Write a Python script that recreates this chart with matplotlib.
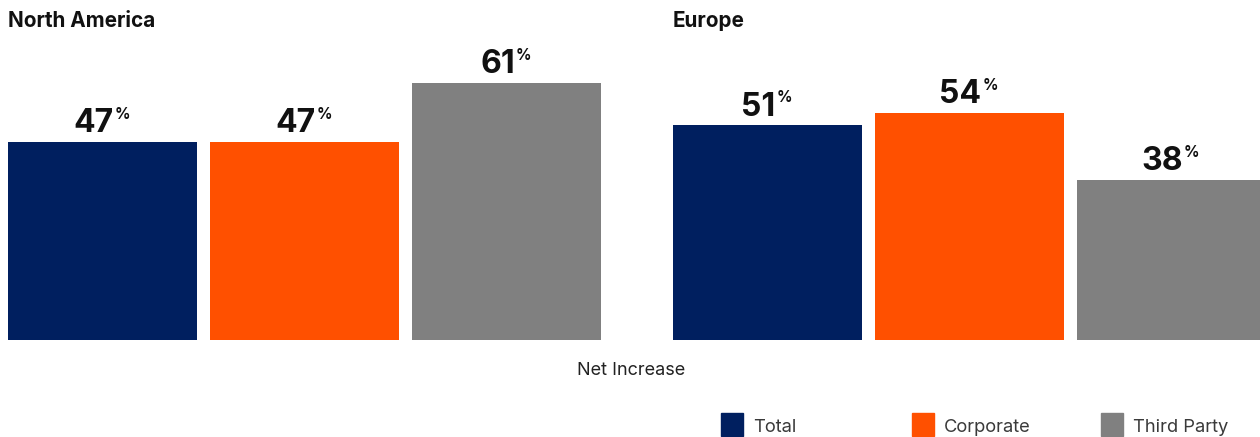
import matplotlib
matplotlib.use("Agg")
import matplotlib.pyplot as plt
from matplotlib.patches import Rectangle

plt.rcParams['font.family'] = ['Inter', 'DejaVu Sans']

regions = ['North America', 'Europe']
series = ['Total', 'Corporate', 'Third Party']
north_america = [47, 47, 61]
europe = [51, 54, 38]
colors = ['#001F5F', '#FF5000', '#808080']

W, H = 1260, 437
fig = plt.figure(figsize=(W / 100, H / 100), dpi=100)

bw = 0.936
ymax = 70
ax_h = ymax * 4.21 / H
ax_bottom = (H - 340) / H
lefts = [8, 673]

for left, title, vals in zip(lefts, regions, [north_america, europe]):
    ax = fig.add_axes([left / W, ax_bottom, 593 / W, ax_h])
    xs = list(range(len(vals)))
    ax.bar(xs, vals, width=bw, color=colors)
    ax.set_xlim(-bw / 2, len(vals) - 1 + bw / 2)
    ax.set_ylim(0, ymax)
    ax.axis('off')
    for x, v in zip(xs, vals):
        num = ax.annotate(str(v), xy=(x, v), xytext=(-6.5, 7), textcoords='offset points',
                          ha='center', va='baseline', fontsize=23, fontweight='bold',
                          color='#111111')
        ax.annotate('%', xy=(1, 1), xycoords=num, xytext=(0.5, 1), textcoords='offset points',
                    ha='left', va='top', fontsize=11, fontweight='bold', color='#111111')
    fig.text(left / W, 1 - 27 / H, title, ha='left', va='baseline',
             fontsize=14.9, fontweight='bold', color='#111111')

fig.text(631 / W, 1 - 375 / H, 'Net Increase', ha='center', va='baseline',
         fontsize=13, color='#222222')

leg_x = [721, 912, 1101]
for lx, name, c in zip(leg_x, series, colors):
    fig.patches.append(Rectangle((lx / W, 1 - 436 / H), 22 / W, 23 / H,
                                 transform=fig.transFigure, color=c))
    fig.text((lx + 32) / W, 1 - 432 / H, name, ha='left', va='baseline',
             fontsize=13.2, color='#3a3a3a')

fig.savefig('out.png', dpi=100)
